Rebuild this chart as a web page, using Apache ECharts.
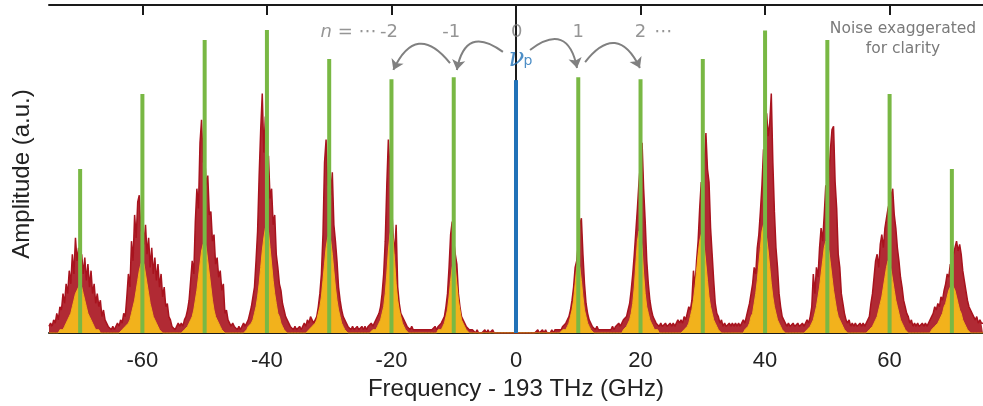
<!DOCTYPE html>
<html>
<head>
<meta charset="utf-8">
<script src="https://cdn.jsdelivr.net/npm/echarts@6.0.0/dist/echarts.min.js"></script>
<style>
  html, body { margin: 0; padding: 0; background: #fff; }
  #main { width: 983px; height: 406px; }
</style>
</head>
<body>
<div id="main"></div>
<script>
// frequency grid of the measured spectra (GHz offset from 193 THz)
const freqStart = -75, freqStep = 0.25;
const xTicks = [-60, -40, -20, 0, 20, 40, 60];

// comb lines (green) and pump (blue, at 0)
const combFreq = [-70, -60, -50, -40, -30, -20, -10, 0, 10, 20, 30, 40, 50, 60, 70];
const combAmp  = [50, 72.9, 89.3, 92.4, 83.5, 77.4, 78, 77.1, 78, 77.4, 83.5, 92.2, 89.3, 72.9, 50];

// red noisy spectrum, one row per 10 GHz window centred on each comb line
const redSpectrum = [
  2,3,2,4,3,6,4,8,7,12, 9,15,12,19,15,24,18,29,22,26, 20,24,18,23,16,21,14,19,12,15, 9,12,8,10,5,7,4,4,2,2,       // -70
  1,2,1,2,3,2,4,3,6,5, 11,18,14,28,22,36,29,40,42,31, 36,27,33,24,29,20,26,18,23,16, 21,14,18,11,14,8,9,5,4,2,     // -60
  2,1,2,3,2,3,2,4,5,7, 10,16,22,18,34,44,38,58,65,52, 54,45,48,36,37,28,30,21,23,17, 19,13,15,6,7,4,3,2,3,2,       // -50
  2,1,2,1,2,3,2,3,4,6, 8,11,14,22,31,48,62,73,55,66, 48,54,41,44,33,36,24,20,15,13, 9,7,5,4,3,2,2,1,2,1,           // -40
  1,2,1,2,3,2,4,3,5,4, 3,4,5,8,12,18,30,52,59,45, 50,42,49,33,28,22,14,10,7,5, 4,3,2,2,1,2,1,1,2,1,                // -30
  1,2,1,2,1,2,2,3,2,3, 4,5,6,8,12,18,28,45,59,50, 40,30,24,33,14,9,6,5,4,3, 2,2,1,2,1,1,1,1,1,1,                   // -20
  1,1,1,1,1,1,1,1,2,1, 2,2,3,4,5,8,12,20,30,34, 28,24,21,12,8,5,4,3,2,2, 1,1,1,1,0,1,0,0,0,0,                      // -10
  1,0,1,0,0,1,0,0,0,0, 0,0,0,0,0,0,0,0,0,0, 0,0,0,0,0,0,0,0,0,0, 0,0,0,0,1,0,0,1,0,1,                             // 0
  0,0,0,1,0,1,1,1,1,1, 2,2,3,4,5,7,10,14,20,22, 27,33,35,24,15,9,6,4,3,2, 2,1,2,1,1,1,1,1,1,1,                     // 10
  1,1,2,1,2,2,3,2,3,4, 4,5,7,9,13,18,24,31,38,46, 52,58,44,34,22,15,10,7,5,4, 3,3,2,3,2,2,3,2,2,3,                 // 20
  2,3,2,3,4,3,4,3,5,4, 6,8,7,10,19,14,22,28,38,46, 40,52,61,50,46,32,24,16,9,6, 5,3,4,2,3,2,2,3,2,3,               // 30
  2,3,2,3,2,3,4,3,5,7, 9,12,15,20,18,26,30,37,45,56, 50,67,60,64,73,52,37,26,20,12, 8,5,4,3,2,3,2,2,3,2,           // 40
  2,3,2,2,3,2,3,4,3,5, 8,18,12,20,17,26,32,28,36,45, 40,48,56,62,63,46,38,24,20,12, 9,6,4,3,4,2,3,2,3,2,           // 50
  2,3,2,3,2,3,4,5,9,12, 17,22,24,20,27,30,26,32,35,38, 40,42,44,36,32,26,22,17,14,10, 8,6,5,3,4,2,3,2,3,2,         // 60
  2,3,2,3,2,3,4,5,6,8, 7,9,8,11,10,13,15,18,17,21, 20,24,26,28,25,27,24,19,16,13, 10,8,7,6,5,4,5,3,4,3,            // 70
  3
];

// yellow spectrum, same grid
const yellowSpectrum = [
  0,0,0,0,0,0,0,1,1,1, 2,3,4,5,6,8,10,12,13,14, 15,14,12,10,8,6,5,4,3,2, 1,1,1,0,0,0,0,0,0,0,
  0,0,0,0,0,0,0,1,1,2, 2,3,4,6,8,10,13,16,19,21, 22,21,18,15,12,9,7,5,4,3, 2,1,1,0,0,0,0,0,0,0,
  0,0,0,0,0,0,0,1,1,2, 3,4,5,7,10,13,17,21,25,27, 28,26,22,18,14,10,7,5,4,3, 2,1,1,0,0,0,0,0,0,0,
  0,0,0,0,0,0,0,1,2,2, 3,4,6,8,11,15,20,25,29,32, 33,31,26,21,16,12,9,6,5,3, 2,1,1,0,0,0,0,0,0,0,
  0,0,0,0,0,0,0,1,1,2, 2,3,4,6,8,11,16,21,26,29, 30,28,24,19,14,10,7,5,3,2, 1,1,0,0,0,0,0,0,0,0,
  0,0,0,0,0,0,0,0,1,1, 1,2,3,4,6,8,12,18,25,30, 32,29,22,15,10,7,5,3,2,1, 1,0,0,0,0,0,0,0,0,0,
  0,0,0,0,0,0,0,0,0,0, 1,1,1,2,3,5,7,11,16,20, 22,20,15,10,7,4,3,2,1,1, 0,0,0,0,0,0,0,0,0,0,
  0,0,0,0,0,0,0,0,0,0, 0,0,0,0,0,0,0,0,0,0, 0,0,0,0,0,0,0,0,0,0, 0,0,0,0,0,0,0,0,0,0,
  0,0,0,0,0,0,0,0,0,0, 1,1,1,2,3,5,7,10,15,20, 22,20,16,11,7,5,3,2,1,1, 0,0,0,0,0,0,0,0,0,0,
  0,0,0,0,0,0,0,0,0,1, 1,2,3,4,6,9,14,21,28,31, 30,26,18,12,8,6,4,3,2,1, 1,1,0,0,0,0,0,0,0,0,
  0,0,0,0,0,0,0,0,1,1, 2,3,5,7,10,14,19,24,28,30, 29,26,21,16,11,8,6,4,3,2, 1,1,0,0,0,0,0,0,0,0,
  0,0,0,0,0,0,0,1,1,2, 3,5,6,9,12,16,21,26,31,33, 32,29,25,20,15,11,8,6,4,3, 2,1,1,0,0,0,0,0,0,0,
  0,0,0,0,0,0,0,1,1,2, 3,4,6,8,11,14,18,22,26,28, 27,25,21,17,13,10,7,5,4,3, 2,1,1,0,0,0,0,0,0,0,
  0,0,0,0,0,0,0,1,1,2, 3,4,5,7,9,11,14,17,20,22, 21,19,16,13,10,8,6,4,3,2, 1,1,0,0,0,0,0,0,0,0,
  0,0,0,0,0,0,0,1,1,2, 2,3,4,5,6,8,9,11,13,14, 15,14,13,11,9,7,6,4,3,2, 1,1,0,0,0,0,0,0,0,0,
  0
];

// mode-number annotation
const modeLabels = ['-2', '-1', '0', '1', '2'];
const modeLabelFreq = [-20.4, -10.4, 0.1, 10, 20];
const modeLabelAmp = 91.6;

// curved arrows from the pump outwards
const arrowFrom = [[-2.1, 85.7], [-10.6, 82.3], [2.25, 86.3], [11.1, 82.6]];
const arrowTo   = [[-9.5, 80.2], [-19.7, 80.2], [9.8, 80.8], [19.9, 80.8]];
const arrowBend = [-0.8, -0.8, 0.8, 0.8];

const axisColor = '#1a1a1a';
const greyText = '#7a7a7a';
const blue = '#2172b8';
const red = '#a8131e';

const toXY = arr => arr.map((v, i) => [freqStart + i * freqStep, v]);

const labelData = modeLabels.map((t, i) => ({
  value: [modeLabelFreq[i], modeLabelAmp],
  label: { formatter: t }
}));
labelData.push({
  value: [-22.4, modeLabelAmp],
  label: { formatter: '{i|n} = \u22ef', align: 'right' }
});
labelData.push({
  value: [22.2, modeLabelAmp],
  label: { formatter: '\u22ef', align: 'left' }
});
labelData.push({
  value: [0.08, 83.5],
  label: { formatter: '\u03bd', fontFamily: 'DejaVu Serif', fontStyle: 'italic', fontSize: 26, color: blue }
});
labelData.push({
  value: [1.9, 82.9],
  label: { formatter: 'p', fontSize: 14, color: blue }
});

const myChart = echarts.init(document.getElementById('main'));
const option = {
  animation: false,
  grid: { left: 49, right: 0, top: 5, bottom: 73 },
  xAxis: [
    {
      type: 'value', min: -75, max: 75, position: 'bottom',
      axisLine: { show: true, onZero: false, lineStyle: { color: axisColor, width: 2 } },
      axisTick: { show: true, inside: true, length: 9, customValues: xTicks, lineStyle: { color: axisColor, width: 2 } },
      axisLabel: { customValues: xTicks, fontSize: 22, color: '#222', margin: 17, fontFamily: 'Liberation Sans' },
      splitLine: { show: false },
      name: 'Frequency - 193 THz (GHz)', nameLocation: 'middle', nameGap: 42,
      nameTextStyle: { fontSize: 24, color: '#222', fontFamily: 'Liberation Sans' }
    },
    {
      type: 'value', min: -75, max: 75, position: 'top',
      axisLine: { show: true, onZero: false, lineStyle: { color: axisColor, width: 2 } },
      axisTick: { show: true, inside: true, length: 10, customValues: xTicks, lineStyle: { color: axisColor, width: 2 } },
      axisLabel: { show: false },
      splitLine: { show: false }
    }
  ],
  yAxis: {
    type: 'value', min: 0, max: 100,
    axisLine: { show: true, lineStyle: { color: axisColor, width: 2 } },
    axisTick: { show: false }, axisLabel: { show: false }, splitLine: { show: false },
    name: 'Amplitude (a.u.)', nameLocation: 'middle', nameGap: 15,
    nameTextStyle: { fontSize: 24, color: '#222', fontFamily: 'Liberation Sans', padding: [0, 10, 0, 0] }
  },
  graphic: [{
    type: 'text', x: 903, y: 19,
    style: {
      text: 'Noise exaggerated\nfor clarity', align: 'center', verticalAlign: 'top',
      fontSize: 15.5, fontFamily: 'DejaVu Sans', fill: greyText, lineHeight: 20
    }
  }],
  series: [
    {
      name: 'noisy', type: 'line', data: toXY(redSpectrum), showSymbol: false, z: 2,
      lineStyle: { color: red, width: 1.5 },
      areaStyle: { color: red, opacity: 0.9 }, silent: true
    },
    {
      name: 'filtered', type: 'line', data: toXY(yellowSpectrum), showSymbol: false, z: 3,
      lineStyle: { color: '#f2b21c', width: 1 },
      areaStyle: { color: '#f2b21c', opacity: 1 }, silent: true
    },
    {
      name: 'comb', type: 'bar', barWidth: 4, z: 4, silent: true,
      data: combFreq.map((f, i) => ({
        value: [f, combAmp[i]],
        itemStyle: { color: f === 0 ? blue : '#79b844' }
      }))
    },
    {
      type: 'lines', coordinateSystem: 'cartesian2d', z: 5, silent: true,
      symbol: ['none', 'arrow'], symbolSize: 10,
      lineStyle: { color: '#808080', width: 2, opacity: 1 },
      data: arrowFrom.map((p, i) => ({
        coords: [p, arrowTo[i]],
        lineStyle: { curveness: arrowBend[i] }
      }))
    },
    {
      type: 'scatter', symbolSize: 1, z: 6, silent: true,
      itemStyle: { color: 'rgba(0,0,0,0)' },
      label: {
        show: true, position: 'inside', fontSize: 18, fontFamily: 'DejaVu Sans', color: greyText,
        rich: { i: { fontStyle: 'italic', fontSize: 18, fontFamily: 'DejaVu Sans', color: greyText } }
      },
      data: labelData
    }
  ]
};
myChart.setOption(option);
</script>
</body>
</html>
